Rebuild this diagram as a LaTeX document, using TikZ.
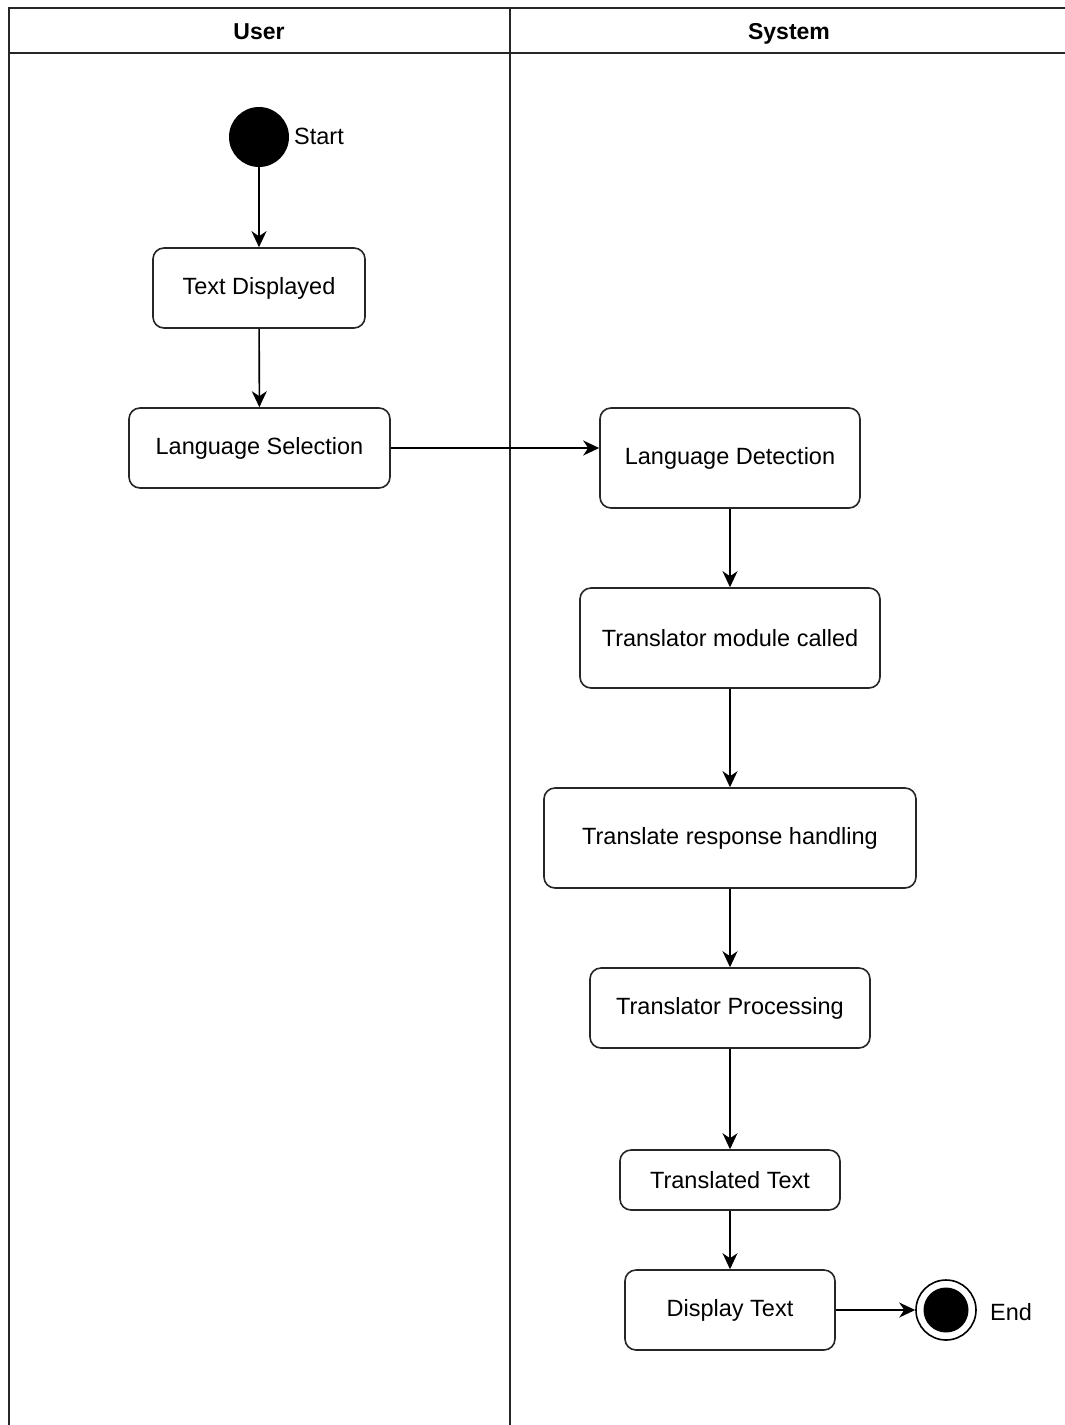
\documentclass[tikz,border=0pt]{standalone}
\usepackage{fontspec}
\setmainfont{Liberation Sans}
\usetikzlibrary{arrows.meta}
\begin{document}
\begin{tikzpicture}[x=1pt,y=-1pt,
  lane/.style={line width=1.6pt, draw=black!85},
  act/.style={draw=black!85, line width=1.6pt, rounded corners=11pt, inner sep=0pt,
              font=\fontsize{23.5}{27}\selectfont, align=center},
  flow/.style={line width=1.6pt, draw=black, -{Stealth[length=16pt,width=15pt,inset=5pt]}},
  lbl/.style={font=\fontsize{23.5}{27}\selectfont, inner sep=0pt, text height=17pt, text depth=5pt},
  hdr/.style={font=\bfseries\fontsize{23}{27}\selectfont, inner sep=0pt, text height=17pt, text depth=5pt}]
\useasboundingbox (0,0) rectangle (1065,1425);
\fill[white] (0,0) rectangle (1065,1425);

% swimlane frame
\draw[lane] (9,1425) -- (9,8) -- (1065,8);
\draw[lane] (9,53) -- (1065,53);
\draw[lane] (510,8) -- (510,1425);
\node[hdr] (hUser) at (259,33) {User};
\node[hdr] (hSystem) at (789,33) {System};

% user lane
\node[circle, fill=black, minimum size=60pt, inner sep=0pt] (start) at (259,137) {};
\node[lbl, anchor=west] (startlbl) at (294,138) {Start};
\node[act, minimum width=212pt, minimum height=80pt] (txt) at (259,288) {Text Displayed};
\node[act, minimum width=261pt, minimum height=80pt] (lang) at (259.5,448) {Language Selection};

% system lane
\node[act, minimum width=260pt, minimum height=100pt] (detect) at (730,458) {Language Detection};
\node[act, minimum width=300pt, minimum height=100pt] (module) at (730,638) {Translator module called};
\node[act, minimum width=372pt, minimum height=100pt] (resp) at (730,838) {Translate response handling};
\node[act, minimum width=280pt, minimum height=80pt] (proc) at (730,1008) {Translator Processing};
\node[act, minimum width=220pt, minimum height=60pt] (trans) at (730,1180) {Translated Text};
\node[act, minimum width=210pt, minimum height=80pt] (disp) at (730,1310) {Display Text};

% final node
\node[circle, draw=black, line width=1.6pt, minimum size=60pt, inner sep=0pt] (endnode) at (946,1310) {};
\node[circle, fill=black, minimum size=45pt, inner sep=0pt] (endcore) at (946,1310) {};
\node[lbl, anchor=west] (endlbl) at (990,1314) {End};

% control flow
\draw[flow] (start) -- (txt);
\draw[flow] (txt) -- (lang);
\coordinate (detectin) at (lang.east -| detect.west);
\draw[flow] (lang.east) -- (detectin);
\draw[flow] (detect) -- (module);
\draw[flow] (module) -- (resp);
\draw[flow] (resp) -- (proc);
\draw[flow] (proc) -- (trans);
\draw[flow] (trans) -- (disp);
\draw[flow] (disp.east) -- (endnode.west);
\end{tikzpicture}
\end{document}
